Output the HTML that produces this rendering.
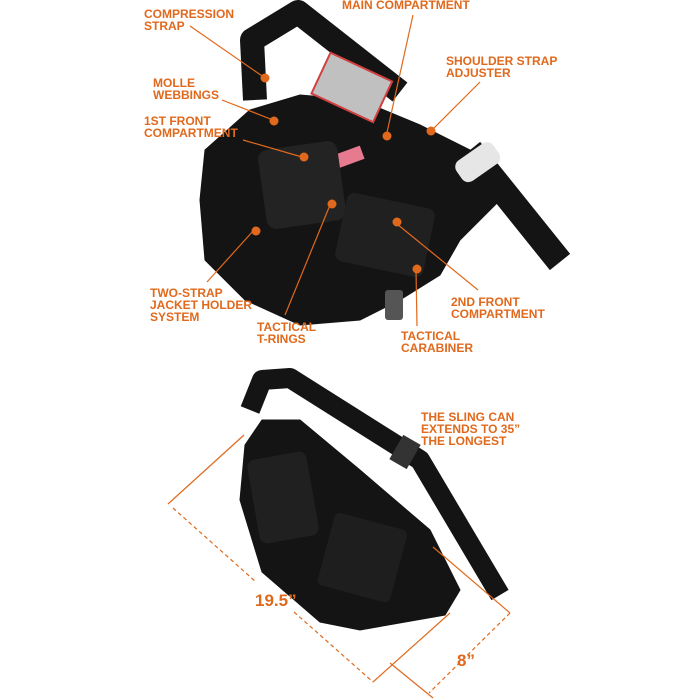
<!DOCTYPE html>
<html><head><meta charset="utf-8"><style>
html,body{margin:0;padding:0;background:#fff;}
svg{display:block}
text{font-family:"Liberation Sans",sans-serif;font-weight:bold;fill:#e0691d;font-size:12px}
</style></head><body>
<svg width="700" height="700" viewBox="0 0 700 700">
<!-- top bag -->
<g fill="#141414" stroke="#141414">
<path d="M255,100 L252,40 L298,12 L400,92" fill="none" stroke-width="24" stroke-linejoin="round"/>
<path d="M470,150 L560,262" fill="none" stroke-width="26"/>
<polygon points="205,150 250,110 300,95 360,100 420,125 470,150 500,200 460,240 440,275 400,300 360,320 300,325 245,300 205,260 200,200"/>
</g>
<rect x="318" y="65" width="68" height="45" fill="#c0c0c0" stroke="#d04040" stroke-width="2" transform="rotate(25 352 87)"/>
<rect x="335" y="150" width="28" height="14" fill="#e87a90" transform="rotate(-20 349 157)"/>
<rect x="455" y="150" width="45" height="25" rx="8" fill="#e6e6e6" transform="rotate(-35 477 162)"/>
<rect x="262" y="145" width="80" height="80" rx="10" fill="#232323" transform="rotate(-8 302 185)"/>
<rect x="340" y="200" width="90" height="70" rx="8" fill="#202020" transform="rotate(12 385 235)"/>
<rect x="385" y="290" width="18" height="30" rx="3" fill="#555"/>
<!-- bottom bag -->
<g fill="#141414" stroke="#141414">
<path d="M250,410 L262,380 L290,378 L420,460 L500,595" fill="none" stroke-width="20" stroke-linejoin="round"/>
<polygon points="245,445 262,420 300,420 360,470 430,530 460,590 445,615 360,630 320,622 262,572 240,500"/>
</g>
<rect x="253" y="455" width="60" height="85" rx="8" fill="#202020" transform="rotate(-10 283 497)"/>
<rect x="325" y="520" width="75" height="75" rx="6" fill="#1e1e1e" transform="rotate(15 362 557)"/>
<rect x="395" y="438" width="20" height="28" fill="#333" transform="rotate(30 405 452)"/>
<!-- leader lines -->
<g stroke="#e0691d" stroke-width="1.2" fill="none">
<line x1="190" y1="26" x2="265" y2="78"/>
<line x1="413" y1="15" x2="386" y2="137"/>
<line x1="480" y1="82" x2="432" y2="130"/>
<line x1="222" y1="100" x2="273" y2="120"/>
<line x1="243" y1="140" x2="302" y2="157"/>
<line x1="207" y1="282" x2="254" y2="230"/>
<line x1="285" y1="315" x2="330" y2="205"/>
<line x1="478" y1="290" x2="397" y2="224"/>
<line x1="417" y1="326" x2="416" y2="270"/>
<line x1="244" y1="435" x2="168" y2="504"/>
<line x1="173" y1="508" x2="256" y2="582" stroke-dasharray="4,3"/>
<line x1="294" y1="612" x2="373" y2="682" stroke-dasharray="4,3"/>
<line x1="373" y1="682" x2="450" y2="613"/>
<line x1="433" y1="547" x2="510" y2="613"/>
<line x1="510" y1="613" x2="429" y2="693" stroke-dasharray="4,3"/>
<line x1="390" y1="663" x2="433" y2="698"/>
</g>
<g fill="#e0691d">
<circle cx="265" cy="78" r="4.5"/><circle cx="274" cy="121" r="4.5"/><circle cx="304" cy="157" r="4.5"/>
<circle cx="387" cy="136" r="4.5"/><circle cx="431" cy="131" r="4.5"/><circle cx="332" cy="204" r="4.5"/>
<circle cx="256" cy="231" r="4.5"/><circle cx="397" cy="222" r="4.5"/><circle cx="417" cy="269" r="4.5"/>
</g>
<text x="144" y="18">COMPRESSION</text><text x="144" y="30">STRAP</text>
<text x="342" y="9">MAIN COMPARTMENT</text>
<text x="446" y="65">SHOULDER STRAP</text><text x="446" y="77">ADJUSTER</text>
<text x="153" y="87">MOLLE</text><text x="153" y="99">WEBBINGS</text>
<text x="144" y="125">1ST FRONT</text><text x="144" y="137">COMPARTMENT</text>
<text x="150" y="297">TWO-STRAP</text><text x="150" y="309">JACKET HOLDER</text><text x="150" y="321">SYSTEM</text>
<text x="257" y="331">TACTICAL</text><text x="257" y="343">T-RINGS</text>
<text x="451" y="306">2ND FRONT</text><text x="451" y="318">COMPARTMENT</text>
<text x="401" y="340">TACTICAL</text><text x="401" y="352">CARABINER</text>
<text x="421" y="421">THE SLING CAN</text><text x="421" y="433">EXTENDS TO 35”</text><text x="421" y="445">THE LONGEST</text>
<text x="255" y="606" style="font-size:17px">19.5”</text>
<text x="457" y="666" style="font-size:17px">8”</text>
</svg>
</body></html>
